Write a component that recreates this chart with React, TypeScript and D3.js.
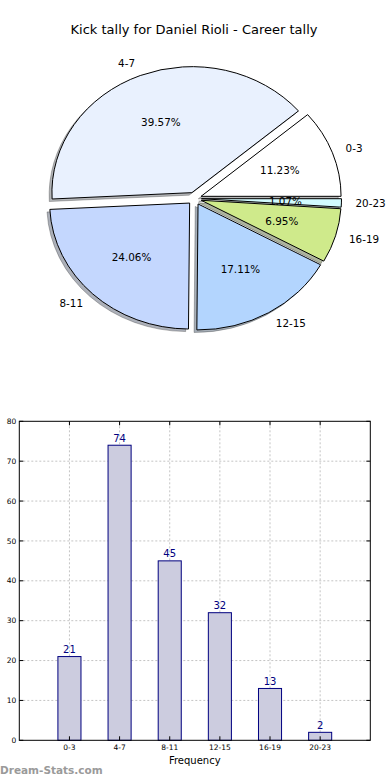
import React from "react";
import * as d3 from "d3";

const categories = ["0-3", "4-7", "8-11", "12-15", "16-19", "20-23"];
const counts = [21, 74, 45, 32, 13, 2];
const sliceColors = ["#ffffff", "#e9f1fe", "#c4d7fe", "#b3d5fe", "#cfea8b", "#d2fbff"];
const yTicks = [0, 10, 20, 30, 40, 50, 60, 70, 80];

const title = "Kick tally for Daniel Rioli - Career tally";
const font = "DejaVu Sans, sans-serif";

// pie geometry (matplotlib style: ccw from 3 o'clock, ellipse since aspect not equal)
const cx = 194.5;
const cy = 198.5;
const R = 140;
const squash = 0.9;
const explode = 0.05;

const App = () => {
  const total = d3.sum(counts);

  const pie = d3
    .pie<number>()
    .sort(null)
    .startAngle(Math.PI / 2)
    .endAngle(Math.PI / 2 - 2 * Math.PI);
  const arcs = pie(counts);
  const arc = d3.arc<d3.PieArcDatum<number>>().innerRadius(0).outerRadius(R);

  // bar chart scales
  const x = d3.scaleLinear().domain([-1, 6]).range([19.3, 370.3]);
  const y = d3.scaleLinear().domain([0, 80]).range([740.3, 421.3]);
  const barW = x(0.46) - x(0);

  const unit = (a: d3.PieArcDatum<number>) => {
    const m = (a.startAngle + a.endAngle) / 2;
    return [Math.sin(m), -Math.cos(m)];
  };

  return (
    <svg
      width={390}
      height={780}
      style={{ position: "absolute", left: 0, top: 0, background: "#fff" }}
      fontFamily={font}
    >
      <text x={194} y={34} textAnchor="middle" fontSize={13} fill="#000">
        {title}
      </text>

      {/* shadows */}
      {arcs.map((a, i) => {
        const [ux, uy] = unit(a);
        const ox = ux * explode * R - 0.02 * R;
        const oy = uy * explode * R + 0.02 * R;
        return (
          <g key={"s" + i} transform={`translate(${cx},${cy}) scale(1,${squash}) translate(${ox},${oy})`}>
            <path
              d={arc(a) || ""}
              fill={d3.color(sliceColors[i])!.darker(2.2).toString()}
              fillOpacity={0.5}
              stroke="#000"
              strokeOpacity={0.25}
              vectorEffect="non-scaling-stroke"
            />
          </g>
        );
      })}

      {/* wedges */}
      {arcs.map((a, i) => {
        const [ux, uy] = unit(a);
        return (
          <g key={"w" + i} transform={`translate(${cx},${cy}) scale(1,${squash}) translate(${ux * explode * R},${uy * explode * R})`}>
            <path
              d={arc(a) || ""}
              fill={sliceColors[i]}
              stroke="#000"
              strokeWidth={1}
              strokeLinejoin="round"
              vectorEffect="non-scaling-stroke"
            />
          </g>
        );
      })}

      {/* labels */}
      {arcs.map((a, i) => {
        const [ux, uy] = unit(a);
        const lx = cx + ux * (explode + 1.1) * R;
        const ly = cy + uy * (explode + 1.1) * R * squash;
        const px = cx + ux * (explode + 0.6) * R;
        const py = cy + uy * (explode + 0.6) * R * squash;
        return (
          <g key={"l" + i} fontSize={10.4} fill="#000">
            <text x={lx} y={ly} dy="0.35em" textAnchor={ux > 0 ? "start" : "end"}>
              {categories[i]}
            </text>
            <text x={px} y={py} dy="0.35em" textAnchor="middle">
              {((counts[i] / total) * 100).toFixed(2) + "%"}
            </text>
          </g>
        );
      })}

      {/* bar chart grid */}
      <g stroke="#c4c4c4" strokeDasharray="2,2" strokeWidth={1}>
        {yTicks.slice(1, -1).map((t) => (
          <line key={"gy" + t} x1={x(-1)} x2={x(6)} y1={y(t)} y2={y(t)} />
        ))}
        {categories.map((c, i) => (
          <line key={"gx" + c} x1={x(i)} x2={x(i)} y1={y(0)} y2={y(80)} />
        ))}
      </g>

      {/* bars */}
      {counts.map((v, i) => (
        <g key={"b" + i}>
          <rect
            x={x(i) - barW / 2}
            y={y(v)}
            width={barW}
            height={y(0) - y(v)}
            fill="#ccccdf"
            stroke="#00007f"
            strokeWidth={1}
          />
          <text x={x(i)} y={y(v) - 3.5} textAnchor="middle" fontSize={10} fill="#00007f">
            {v}
          </text>
        </g>
      ))}

      {/* ticks */}
      <g stroke="#000" strokeWidth={1}>
        {yTicks.map((t) => (
          <g key={"ty" + t}>
            <line x1={x(-1)} x2={x(-1) + 4} y1={y(t)} y2={y(t)} />
            <line x1={x(6)} x2={x(6) - 4} y1={y(t)} y2={y(t)} />
          </g>
        ))}
        {categories.map((c, i) => (
          <g key={"tx" + c}>
            <line x1={x(i)} x2={x(i)} y1={y(0)} y2={y(0) - 4} />
            <line x1={x(i)} x2={x(i)} y1={y(80)} y2={y(80) + 4} />
          </g>
        ))}
      </g>

      <rect
        x={x(-1)}
        y={y(80)}
        width={x(6) - x(-1)}
        height={y(0) - y(80)}
        fill="none"
        stroke="#000"
        strokeWidth={1}
      />

      {yTicks.map((t) => (
        <text key={"yl" + t} x={x(-1) - 3} y={y(t)} dy="0.35em" textAnchor="end" fontSize={7.5} fill="#000">
          {t}
        </text>
      ))}
      {categories.map((c, i) => (
        <text key={"xl" + c} x={x(i)} y={y(0) + 10} textAnchor="middle" fontSize={7.5} fill="#000">
          {c}
        </text>
      ))}

      <text x={(x(-1) + x(6)) / 2} y={764} textAnchor="middle" fontSize={10} fill="#000">
        Frequency
      </text>
      <text x={0} y={774} fontSize={10.5} fill="#9a9a9a" fontWeight="bold">
        Dream-Stats.com
      </text>
    </svg>
  );
};

export default App;
